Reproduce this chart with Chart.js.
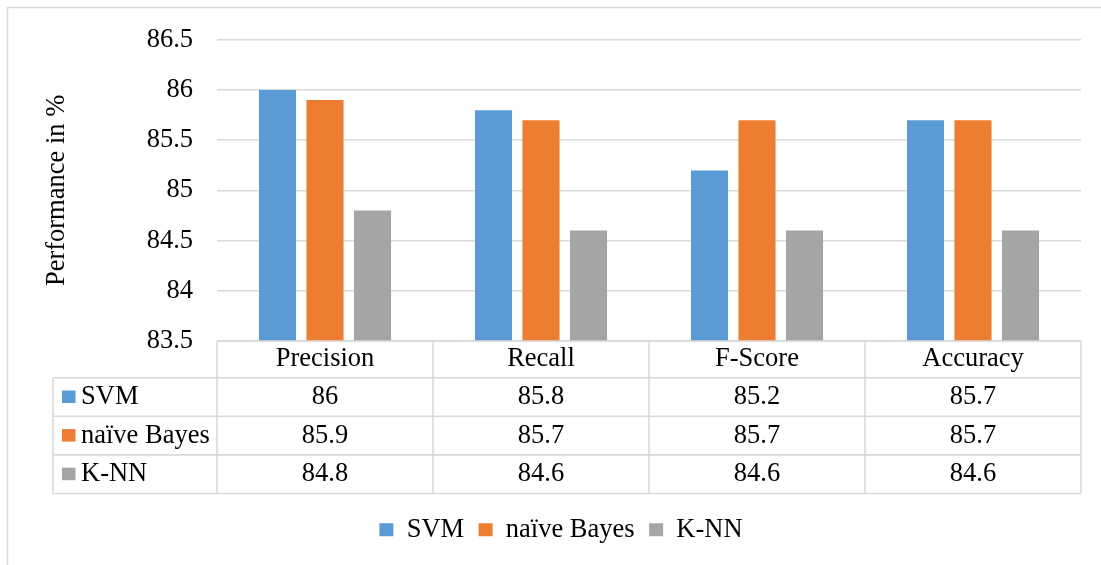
<!DOCTYPE html>
<html>
<head>
<meta charset="utf-8">
<script src="https://cdn.jsdelivr.net/npm/chart.js@4/dist/chart.umd.min.js"></script>
<style>
  html, body { margin: 0; padding: 0; background: #fff; }
  #wrap { width: 1101px; height: 565px; position: relative; }
  canvas { display: block; }
</style>
</head>
<body>
<div id="wrap"><canvas id="chart" width="1101" height="565"></canvas></div>
<script>
// ---- data ----
const categories = ['Precision', 'Recall', 'F-Score', 'Accuracy'];
const seriesNames = ['SVM', 'naïve Bayes', 'K-NN'];
const svmValues = [86, 85.8, 85.2, 85.7];
const naiveBayesValues = [85.9, 85.7, 85.7, 85.7];
const knnValues = [84.8, 84.6, 84.6, 84.6];
const yTickValues = [83.5, 84, 84.5, 85, 85.5, 86, 86.5];

// ---- styling ----
const seriesColors = ['#5B9BD5', '#ED7D31', '#A5A5A5'];
const FONT_FAMILY = '"Liberation Serif", "Times New Roman", serif';
const FONT_SIZE = 26.5;
const LINE_COLOR = '#D9D9D9';
const TEXT_COLOR = '#000000';

// Data table under the plot: header row holds the category ticks,
// then one row per series with its colour key and values.
const dataTablePlugin = {
  id: 'dataTable',
  beforeDraw(chart) {
    const ctx = chart.ctx;
    ctx.save();
    ctx.strokeStyle = LINE_COLOR;
    ctx.lineWidth = 1.5;
    ctx.beginPath();
    ctx.moveTo(7.5, chart.height);
    ctx.lineTo(7.5, 7.5);
    ctx.lineTo(chart.width, 7.5);
    ctx.stroke();
    ctx.restore();
  },
  afterDraw(chart) {
    const { ctx, chartArea } = chart;
    const xScale = chart.scales.x;
    const n = categories.length;
    const colW = (chartArea.right - chartArea.left) / n;
    const tableLeft = 53;
    const headerTop = chartArea.bottom;
    const headerBottom = headerTop + 36.7;
    const rowH = 38.6;
    const rows = chart.data.datasets.length;
    const tableBottom = headerBottom + rowH * rows;

    ctx.save();
    ctx.strokeStyle = LINE_COLOR;
    ctx.lineWidth = 1.6;
    ctx.beginPath();
    // header top line (only across category columns)
    ctx.moveTo(chartArea.left, headerTop);
    ctx.lineTo(chartArea.right, headerTop);
    // row lines
    for (let r = 0; r <= rows; r++) {
      const y = headerBottom + r * rowH;
      ctx.moveTo(tableLeft, y);
      ctx.lineTo(chartArea.right, y);
    }
    // left edge of series-name column
    ctx.moveTo(tableLeft, headerBottom);
    ctx.lineTo(tableLeft, tableBottom);
    // column boundaries
    for (let i = 0; i <= n; i++) {
      const xb = i < n ? xScale.getPixelForValue(i) - colW / 2 : chartArea.right;
      ctx.moveTo(xb, headerTop);
      ctx.lineTo(xb, tableBottom);
    }
    ctx.stroke();

    ctx.font = FONT_SIZE + 'px ' + FONT_FAMILY;
    ctx.fillStyle = TEXT_COLOR;
    ctx.textBaseline = 'middle';
    chart.data.datasets.forEach((ds, r) => {
      const cy = headerBottom + r * rowH + rowH / 2;
      // colour key
      ctx.fillStyle = ds.backgroundColor;
      ctx.fillRect(62, cy - 6.5, 13.5, 12.5);
      ctx.fillStyle = TEXT_COLOR;
      ctx.textAlign = 'left';
      ctx.fillText(ds.label, 81, cy);
      // values
      ctx.textAlign = 'center';
      ds.data.forEach((v, i) => {
        ctx.fillText(String(v), xScale.getPixelForValue(i), cy);
      });
    });
    ctx.restore();
  }
};

const datasets = [svmValues, naiveBayesValues, knnValues].map((values, i) => ({
  label: seriesNames[i],
  data: values,
  backgroundColor: seriesColors[i],
  borderWidth: 0,
  categoryPercentage: 0.66,
  barPercentage: 0.78
}));

new Chart(document.getElementById('chart'), {
  type: 'bar',
  data: { labels: categories, datasets },
  plugins: [dataTablePlugin],
  options: {
    responsive: false,
    animation: false,
    devicePixelRatio: 1,
    layout: { padding: { left: 41, top: 37, right: 20, bottom: 12 } },
    plugins: {
      tooltip: { enabled: false },
      legend: {
        position: 'bottom',
        labels: {
          boxWidth: 14,
          boxHeight: 13,
          padding: 14.5,
          color: TEXT_COLOR,
          font: { family: FONT_FAMILY, size: FONT_SIZE }
        }
      }
    },
    scales: {
      x: {
        grid: { display: false, drawTicks: false },
        border: { display: false },
        ticks: {
          padding: 2.5,
          color: TEXT_COLOR,
          maxRotation: 0,
          font: { family: FONT_FAMILY, size: FONT_SIZE }
        },
        afterFit(scale) { scale.height = 161; }
      },
      y: {
        min: 83.5,
        max: 86.5,
        grid: { color: LINE_COLOR, lineWidth: 1.6, drawTicks: false },
        border: { display: false },
        afterBuildTicks(scale) {
          scale.ticks = yTickValues.map(v => ({ value: v }));
        },
        ticks: {
          padding: 24,
          color: TEXT_COLOR,
          font: { family: FONT_FAMILY, size: FONT_SIZE },
          callback: (value) => String(value)
        },
        title: {
          display: true,
          text: 'Performance in %',
          color: TEXT_COLOR,
          padding: { top: 0, bottom: 0 },
          font: { family: FONT_FAMILY, size: FONT_SIZE }
        },
        afterFit(scale) { scale.width = 176; }
      }
    }
  }
});
</script>
</body>
</html>
